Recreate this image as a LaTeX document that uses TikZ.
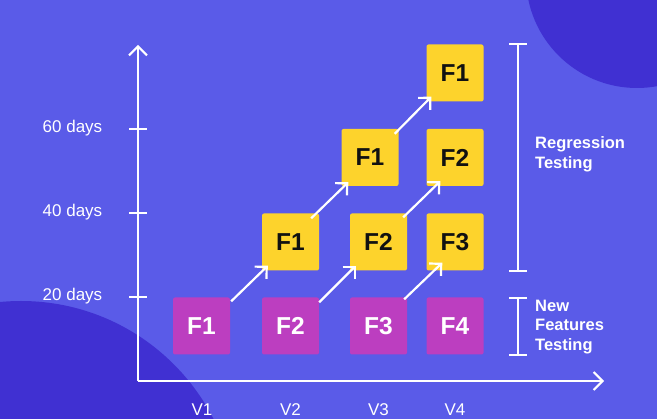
\documentclass[tikz,border=0pt]{standalone}
\usepackage{fontspec}
\setmainfont{Liberation Sans}
\usetikzlibrary{arrows.meta}
\definecolor{bg}{RGB}{90,91,232}
\definecolor{darkc}{RGB}{64,48,210}
\definecolor{purp}{RGB}{188,62,192}
\definecolor{yell}{RGB}{253,211,44}
\definecolor{ink}{RGB}{17,17,17}
\begin{document}
\begin{tikzpicture}[x=1pt,y=-1pt,
  box/.style={minimum width=57pt,minimum height=57pt,rounded corners=2pt,inner sep=0pt,
    font=\fontsize{24.5}{24.5}\selectfont\bfseries},
  newbox/.style={box,fill=purp,text=white},
  regbox/.style={box,fill=yell,text=ink},
  axisline/.style={white,line width=2pt},
  axisarrow/.style={axisline,-{Straight Barb[length=9pt,width=18pt,line width=2pt]}},
  conn/.style={white,line width=2.2pt,-{Straight Barb[length=8.5pt,width=17pt,line width=2.2pt]}},
  daylabel/.style={text=white,font=\fontsize{17}{17}\selectfont,inner sep=0pt},
  vlabel/.style={text=white,font=\fontsize{17}{17}\selectfont,inner sep=0pt},
  sidelabel/.style={text=white,font=\fontsize{16.5}{19.5}\selectfont\bfseries,align=left,anchor=west,inner sep=0pt}
]
\useasboundingbox (0,0) rectangle (657,419);
\fill[bg] (0,0) rectangle (657,419);
\begin{scope}
  \clip (0,0) rectangle (657,419);
  \fill[darkc] (637,-23) circle (111pt);
  \fill[darkc] (21,517) circle (216pt);
\end{scope}

% axes
\coordinate (O) at (138,381);
\coordinate (Ytop) at (138,45);
\coordinate (Xend) at (604,381);
\draw[axisarrow] (O) -- (Ytop);
\draw[axisarrow] (O) -- (Xend);

% ticks and day labels
\draw[axisline] (129,129) -- (147,129);
\draw[axisline] (129,213) -- (147,213);
\draw[axisline] (129,297) -- (147,297);
\node[daylabel] (d60) at (72.5,128) {60 days};
\node[daylabel] (d40) at (72.5,212) {40 days};
\node[daylabel] (d20) at (72.5,296) {20 days};

% version labels
\node[vlabel] (v1) at (202,410) {V1};
\node[vlabel] (v2) at (290.5,410) {V2};
\node[vlabel] (v3) at (378.5,410) {V3};
\node[vlabel] (v4) at (455,410) {V4};

% new feature boxes
\node[newbox] (P1) at (201.5,326) {F1};
\node[newbox] (P2) at (290.5,326) {F2};
\node[newbox] (P3) at (378.5,326) {F3};
\node[newbox] (P4) at (455,326) {F4};

% regression boxes
\node[regbox] (A1) at (290.5,242) {F1};
\node[regbox] (A2) at (378.5,242) {F2};
\node[regbox] (A3) at (455,242) {F3};
\node[regbox] (B1) at (370,157.5) {F1};
\node[regbox] (B2) at (455,157.5) {F2};
\node[regbox] (C1) at (455,73) {F1};

% connectors
\draw[conn] ([shift={(1,4)}]P1.north east) -- ([shift={(6,-5)}]A1.south west);
\draw[conn] ([shift={(0,5)}]P2.north east) -- ([shift={(6,-5)}]A2.south west);
\draw[conn] ([shift={(-3,2)}]P3.north east) -- ([shift={(16,-8)}]A3.south west);
\draw[conn] ([shift={(-8,5)}]A1.north east) -- ([shift={(7,-4)}]B1.south west);
\draw[conn] ([shift={(-4,4)}]A2.north east) -- ([shift={(14,-5)}]B2.south west);
\draw[conn] ([shift={(-4,5)}]B1.north east) -- ([shift={(5,-5)}]C1.south west);

% brackets
\draw[axisline] (509,44) -- (527,44) (518,44) -- (518,271) (509,271) -- (527,271);
\draw[axisline] (509,298) -- (527,298) (518,298) -- (518,355) (509,355) -- (527,355);
\node[sidelabel] (reg) at (535,154.5) {Regression\\Testing};
\node[sidelabel] (nft) at (535,327) {New\\Features\\Testing};
\end{tikzpicture}
\end{document}
